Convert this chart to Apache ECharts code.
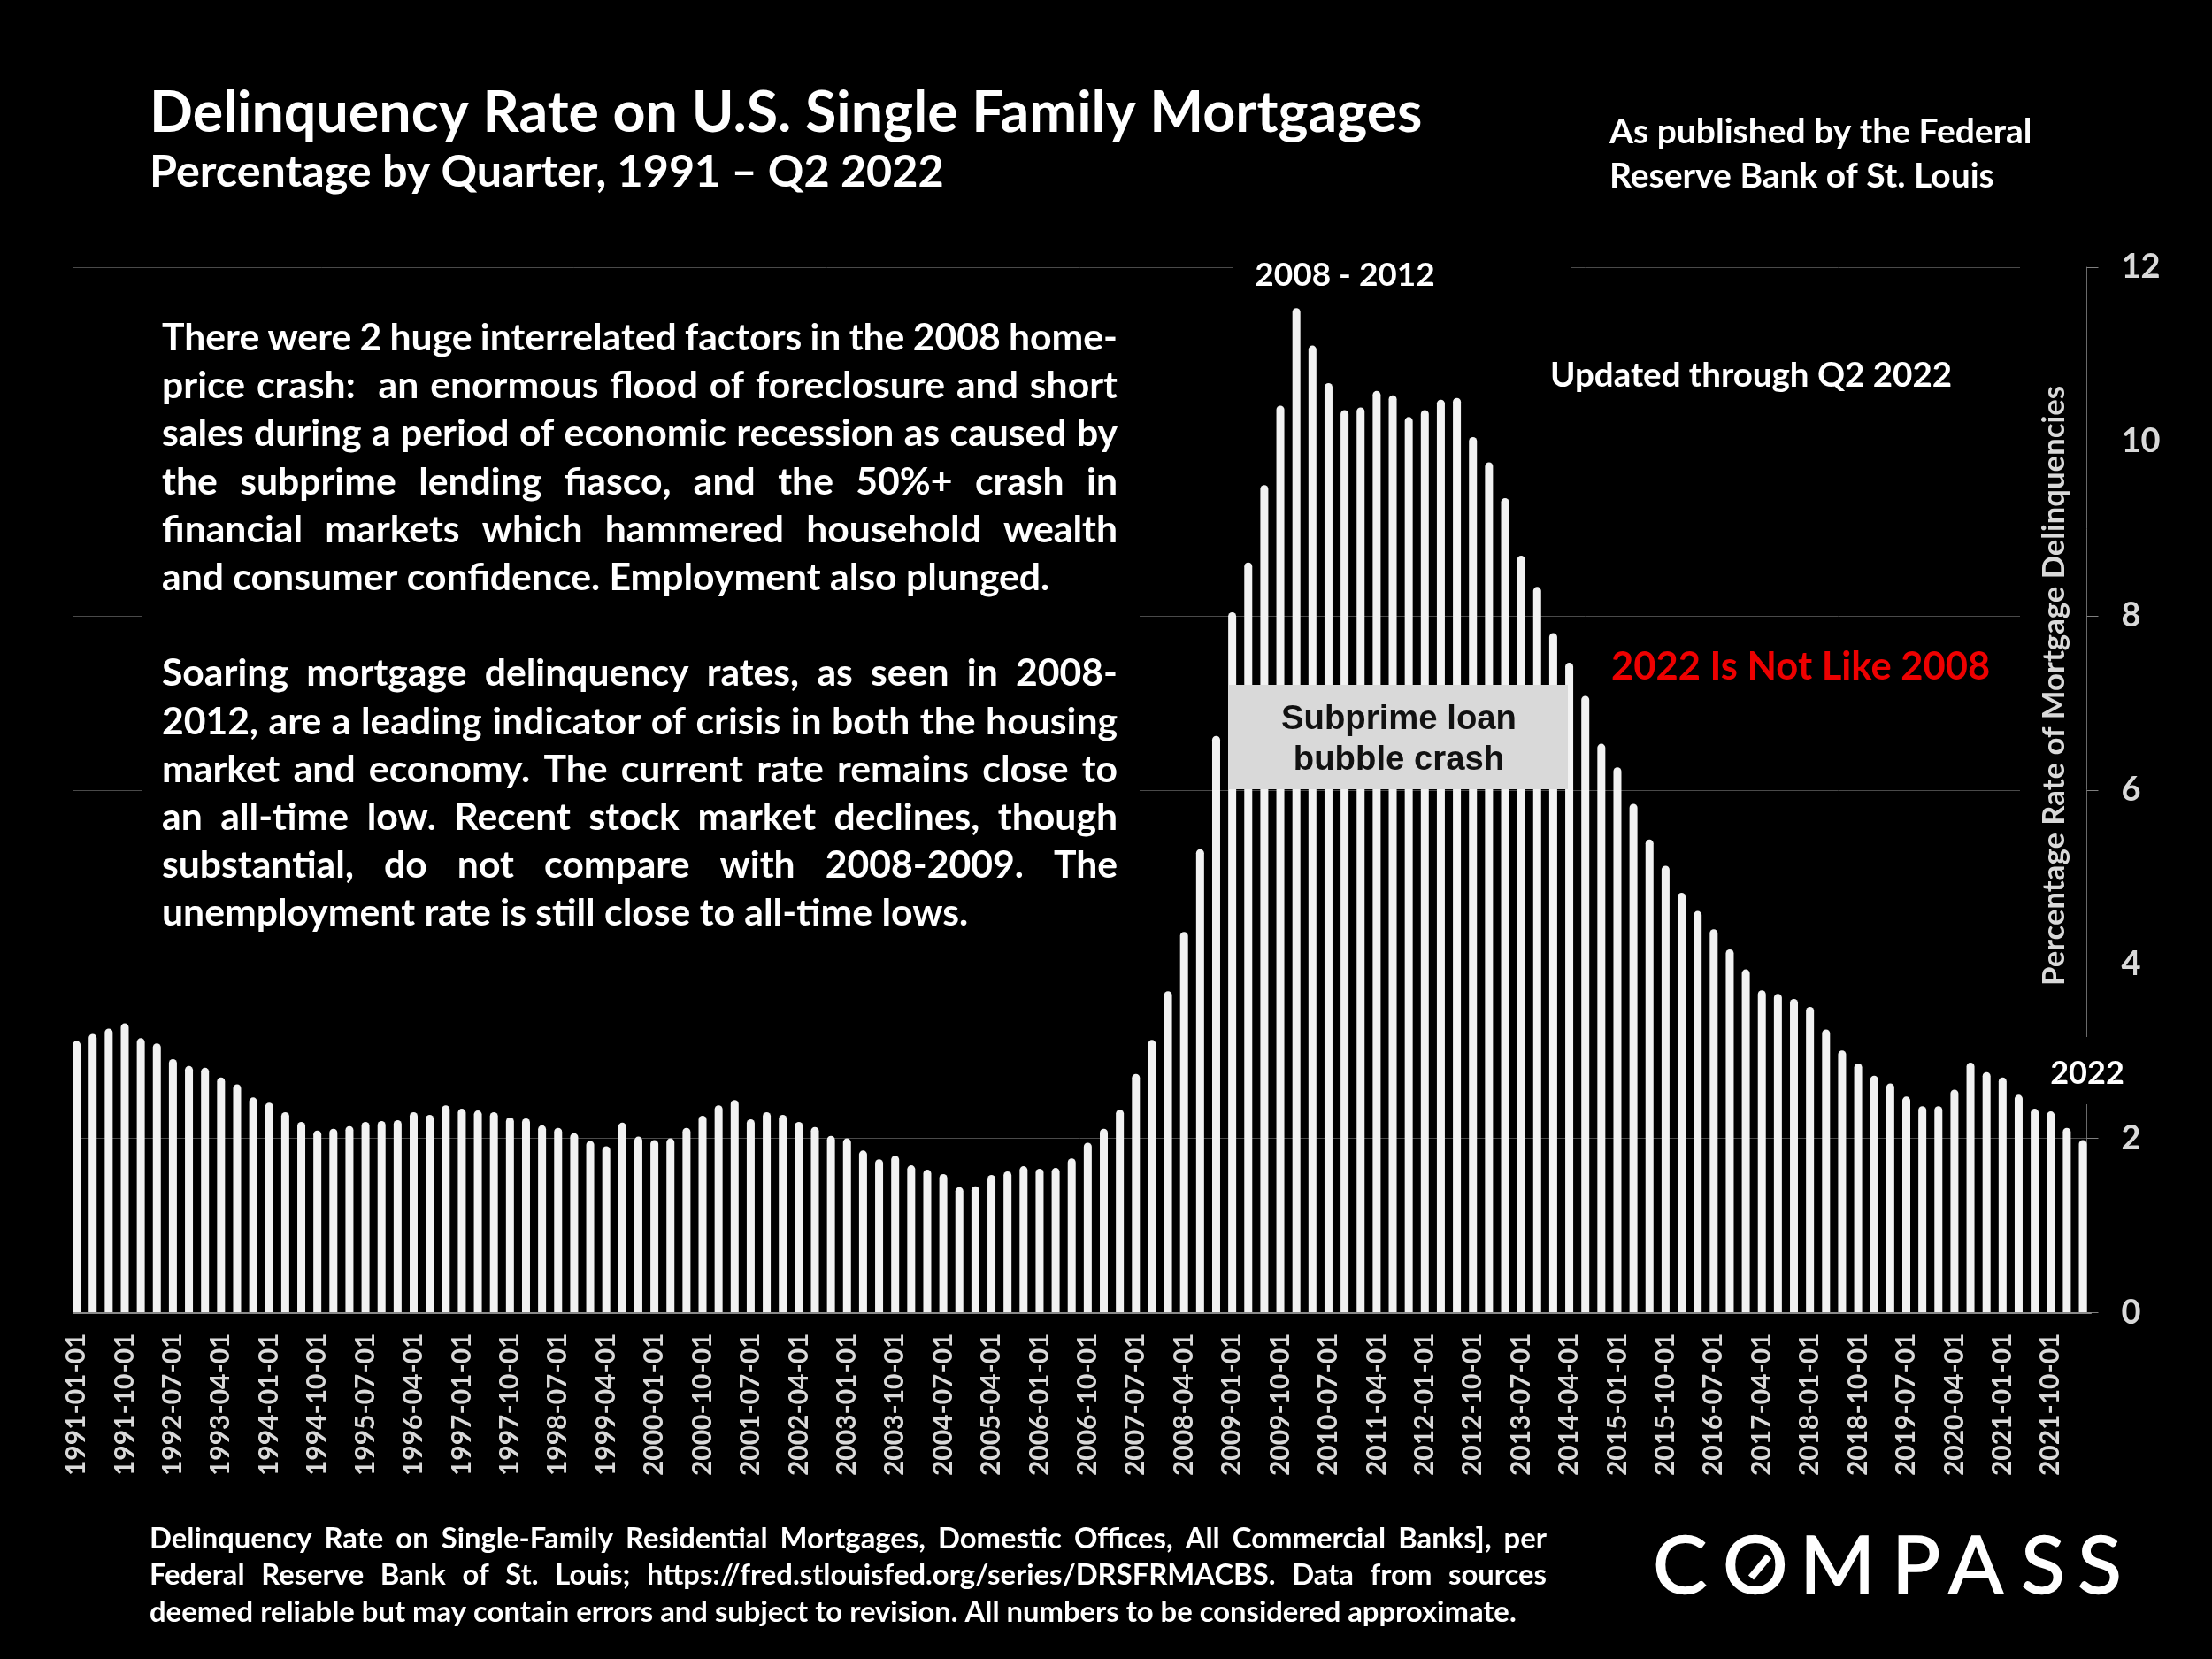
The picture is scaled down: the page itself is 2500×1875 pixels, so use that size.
<!DOCTYPE html>
<html>
<head>
<meta charset="utf-8">
<title>Delinquency Rate on U.S. Single Family Mortgages</title>
<style>
html, body { margin: 0; padding: 0; background: #000; }
#chart { width: 2500px; height: 1875px; }
</style>
<script src="https://cdn.jsdelivr.net/npm/echarts@6/dist/echarts.min.js"></script>
</head>
<body>
<div id="chart"></div>
<script>
// quarters, 1991 Q1 - 2022 Q2
var quarters = [
    '1991-01-01','1991-04-01','1991-07-01','1991-10-01','1992-01-01','1992-04-01','1992-07-01','1992-10-01',
    '1993-01-01','1993-04-01','1993-07-01','1993-10-01','1994-01-01','1994-04-01','1994-07-01','1994-10-01',
    '1995-01-01','1995-04-01','1995-07-01','1995-10-01','1996-01-01','1996-04-01','1996-07-01','1996-10-01',
    '1997-01-01','1997-04-01','1997-07-01','1997-10-01','1998-01-01','1998-04-01','1998-07-01','1998-10-01',
    '1999-01-01','1999-04-01','1999-07-01','1999-10-01','2000-01-01','2000-04-01','2000-07-01','2000-10-01',
    '2001-01-01','2001-04-01','2001-07-01','2001-10-01','2002-01-01','2002-04-01','2002-07-01','2002-10-01',
    '2003-01-01','2003-04-01','2003-07-01','2003-10-01','2004-01-01','2004-04-01','2004-07-01','2004-10-01',
    '2005-01-01','2005-04-01','2005-07-01','2005-10-01','2006-01-01','2006-04-01','2006-07-01','2006-10-01',
    '2007-01-01','2007-04-01','2007-07-01','2007-10-01','2008-01-01','2008-04-01','2008-07-01','2008-10-01',
    '2009-01-01','2009-04-01','2009-07-01','2009-10-01','2010-01-01','2010-04-01','2010-07-01','2010-10-01',
    '2011-01-01','2011-04-01','2011-07-01','2011-10-01','2012-01-01','2012-04-01','2012-07-01','2012-10-01',
    '2013-01-01','2013-04-01','2013-07-01','2013-10-01','2014-01-01','2014-04-01','2014-07-01','2014-10-01',
    '2015-01-01','2015-04-01','2015-07-01','2015-10-01','2016-01-01','2016-04-01','2016-07-01','2016-10-01',
    '2017-01-01','2017-04-01','2017-07-01','2017-10-01','2018-01-01','2018-04-01','2018-07-01','2018-10-01',
    '2019-01-01','2019-04-01','2019-07-01','2019-10-01','2020-01-01','2020-04-01','2020-07-01','2020-10-01',
    '2021-01-01','2021-04-01','2021-07-01','2021-10-01','2022-01-01','2022-04-01'
];

// delinquency rate, percent
var delinquencyRate = [
    3.12,3.20,3.26,3.32,3.15,3.09,2.91,2.83,
    2.81,2.70,2.62,2.47,2.41,2.30,2.19,2.09,
    2.11,2.14,2.19,2.20,2.21,2.30,2.27,2.38,
    2.34,2.32,2.30,2.24,2.23,2.15,2.12,2.06,
    1.97,1.91,2.18,2.02,1.98,2.00,2.12,2.26,
    2.38,2.44,2.22,2.30,2.27,2.19,2.13,2.03,
    2.00,1.86,1.76,1.80,1.69,1.64,1.59,1.44,
    1.45,1.58,1.62,1.68,1.65,1.66,1.77,1.95,
    2.11,2.33,2.74,3.13,3.69,4.37,5.32,6.62,
    8.04,8.61,9.50,10.41,11.53,11.10,10.67,10.36,
    10.39,10.58,10.53,10.28,10.36,10.48,10.50,10.05,
    9.76,9.35,8.69,8.33,7.80,7.46,7.08,6.53,
    6.26,5.84,5.43,5.13,4.82,4.61,4.40,4.17,
    3.94,3.70,3.66,3.60,3.51,3.25,3.01,2.86,
    2.72,2.63,2.48,2.37,2.37,2.56,2.87,2.76,
    2.70,2.50,2.34,2.31,2.12,1.98
];

var titleText = 'Delinquency Rate on U.S. Single Family Mortgages';
var subtitleText = 'Percentage by Quarter, 1991 \u2013 Q2 2022';
var yAxisName = 'Percentage Rate of Mortgage Delinquencies';

var paragraphLines = [
    ['There were 2 huge interrelated factors in the 2008 home-', 382.5, true],
    ['price crash:  an enormous flood of foreclosure and short', 436.5, true],
    ['sales during a period of economic recession as caused by', 490.5, true],
    ['the subprime lending fiasco, and the 50%+ crash in', 545.5, true],
    ['financial markets which hammered household wealth', 599.5, true],
    ['and consumer confidence. Employment also plunged.', 653.5, false],
    ['Soaring mortgage delinquency rates, as seen in 2008-', 761.5, true],
    ['2012, are a leading indicator of crisis in both the housing', 816.5, true],
    ['market and economy. The current rate remains close to', 870.5, true],
    ['an all-time low. Recent stock market declines, though', 924.5, true],
    ['substantial, do not compare with 2008-2009. The', 978.5, true],
    ['unemployment rate is still close to all-time lows.', 1032.5, false]
];

var footerLines = [
    ['Delinquency Rate on Single-Family Residential Mortgages, Domestic Offices, All Commercial Banks], per', 1739.5, true],
    ['Federal Reserve Bank of St. Louis; https://fred.stlouisfed.org/series/DRSFRMACBS. Data from sources', 1780.5, true],
    ['deemed reliable but may contain errors and subject to revision. All numbers to be considered approximate.', 1822.5, false]
];

var FONT = 'Lato, "Open Sans", sans-serif';
var measureCtx = document.createElement('canvas').getContext('2d');

function textEl(text, x, y, size, color, align) {
    return {
        type: 'text',
        z: 20,
        style: {
            text: text,
            x: x,
            y: y,
            fill: color || '#fff',
            font: 'bold ' + size + 'px ' + FONT,
            textAlign: align || 'left',
            textVerticalAlign: 'middle'
        }
    };
}

function maskEl(x, y, w, h, color) {
    return {
        type: 'rect',
        z: 10,
        shape: { x: x, y: y, width: w, height: h },
        style: { fill: color || '#000' }
    };
}

// canvas text can't justify, so lay the words out one by one
function justifiedEls(lines, left, right, size) {
    var els = [];
    measureCtx.font = 'bold ' + size + 'px ' + FONT;
    lines.forEach(function(line) {
        if (!line[2]) {
            els.push(textEl(line[0], left, line[1], size));
            return;
        }
        var words = line[0].split(' ');
        var total = 0;
        words.forEach(function(w) { total += measureCtx.measureText(w).width; });
        var gap = (right - left - total) / (words.length - 1);
        var x = left;
        words.forEach(function(w) {
            if (w) {
                els.push(textEl(w, x, line[1], size));
            }
            x += measureCtx.measureText(w).width + gap;
        });
    });
    return els;
}

function logoEls() {
    var letters = [['C', 1868], ['O', 1947], ['M', 2034], ['P', 2138], ['A', 2202], ['S', 2284], ['S', 2348]];
    var els = letters.map(function(l) {
        var el = textEl(l[0], l[1], 1771, 92);
        el.style.font = '400 92px ' + FONT;
        el.style.stroke = '#fff';
        el.style.lineWidth = 1.5;
        return el;
    });
    els.push({
        type: 'line',
        z: 20,
        shape: { x1: 1979, y1: 1783, x2: 1999, y2: 1759 },
        style: { stroke: '#fff', lineWidth: 8 }
    });
    return els;
}

var graphicEls = [
    // black boxes behind the annotations that cut the gridlines
    maskEl(160, 320, 1128, 750),
    maskEl(1394, 290, 382, 40),
    maskEl(2283, 300, 75, 872),
    maskEl(2300, 1172, 66, 76),
    maskEl(70, 290, 13, 1200),
    maskEl(1388, 774, 384, 118, '#d9d9d9'),
    textEl('2008 - 2012', 1520, 311, 37, '#fff', 'center'),
    textEl('As published by the Federal', 1819, 149, 39),
    textEl('Reserve Bank of St. Louis', 1819, 199, 39),
    textEl('Updated through Q2 2022', 1752, 425, 38.5),
    textEl('2022 Is Not Like 2008', 1821, 754, 43.5, '#ee0000'),
    textEl('2022', 2359, 1213, 36, '#fff', 'center'),
    {
        // sits on top of the mask, so it can't be the axis's own name
        type: 'text',
        z: 20,
        x: 2322,
        y: 775,
        rotation: Math.PI / 2,
        style: {
            text: yAxisName,
            fill: '#d9d9d9',
            font: 'bold 34.7px ' + FONT,
            textAlign: 'center',
            textVerticalAlign: 'middle'
        }
    },
    {
        type: 'text',
        z: 20,
        style: {
            text: 'Subprime loan\nbubble crash',
            x: 1581,
            y: 836,
            fill: '#111',
            font: 'bold 38.3px "Liberation Sans", Arial, sans-serif',
            lineHeight: 46,
            textAlign: 'center',
            textVerticalAlign: 'middle'
        }
    }
].concat(
    justifiedEls(paragraphLines, 183, 1263, 42.7),
    justifiedEls(footerLines, 169, 1748, 32.8),
    logoEls()
);

var chart = echarts.init(document.getElementById('chart'));

var option = {
    backgroundColor: '#000',
    animation: false,
    title: [
        { text: titleText, left: 164, top: 91, textStyle: { color: '#fff', fontFamily: FONT, fontWeight: 'bold', fontSize: 64.5 } },
        { text: subtitleText, left: 164, top: 165, textStyle: { color: '#fff', fontFamily: FONT, fontWeight: 'bold', fontSize: 50.3 } }
    ],
    grid: [
        // bars and value axis
        { left: 77.5, top: 302, width: 2285.6, height: 1181.5 },
        // same frame nudged left, only holds the date ticks
        { left: 73.9, top: 302, width: 2285.6, height: 1181.5 }
    ],
    xAxis: [
        {
            type: 'category',
            gridIndex: 0,
            data: quarters,
            z: 3,
            axisLine: { lineStyle: { color: '#8a8a8a', width: 2 } },
            axisTick: { show: false },
            axisLabel: {
                interval: 2,
                rotate: 90,
                margin: 23,
                color: '#d9d9d9',
                fontFamily: FONT,
                fontWeight: 'bold',
                fontSize: 30
            }
        },
        {
            type: 'category',
            gridIndex: 1,
            data: quarters,
            axisLine: { show: false },
            axisTick: { interval: 2, alignWithLabel: true, length: 12, lineStyle: { color: '#808080', width: 1 } },
            axisLabel: { show: false }
        }
    ],
    yAxis: [
        {
            type: 'value',
            gridIndex: 0,
            min: 0,
            max: 12,
            interval: 2,
            position: 'right',
            offset: -4.6,
            axisLine: { show: true, lineStyle: { color: '#6a6a6a', width: 1 } },
            axisTick: { show: true, length: 13, lineStyle: { color: '#808080', width: 1 } },
            axisLabel: {
                margin: 39,
                color: '#d9d9d9',
                fontFamily: FONT,
                fontWeight: 'bold',
                fontSize: 38
            },
            splitLine: { show: true, lineStyle: { color: '#4a4a4a', width: 1 } }
        },
        { type: 'value', gridIndex: 1, min: 0, max: 12, show: false }
    ],
    series: [
        {
            type: 'bar',
            xAxisIndex: 0,
            yAxisIndex: 0,
            data: delinquencyRate,
            barWidth: 9,
            itemStyle: { color: '#f2f2f2', borderRadius: [4.5, 4.5, 0, 0] }
        }
    ],
    graphic: { elements: graphicEls }
};

chart.setOption(option);
</script>
</body>
</html>
